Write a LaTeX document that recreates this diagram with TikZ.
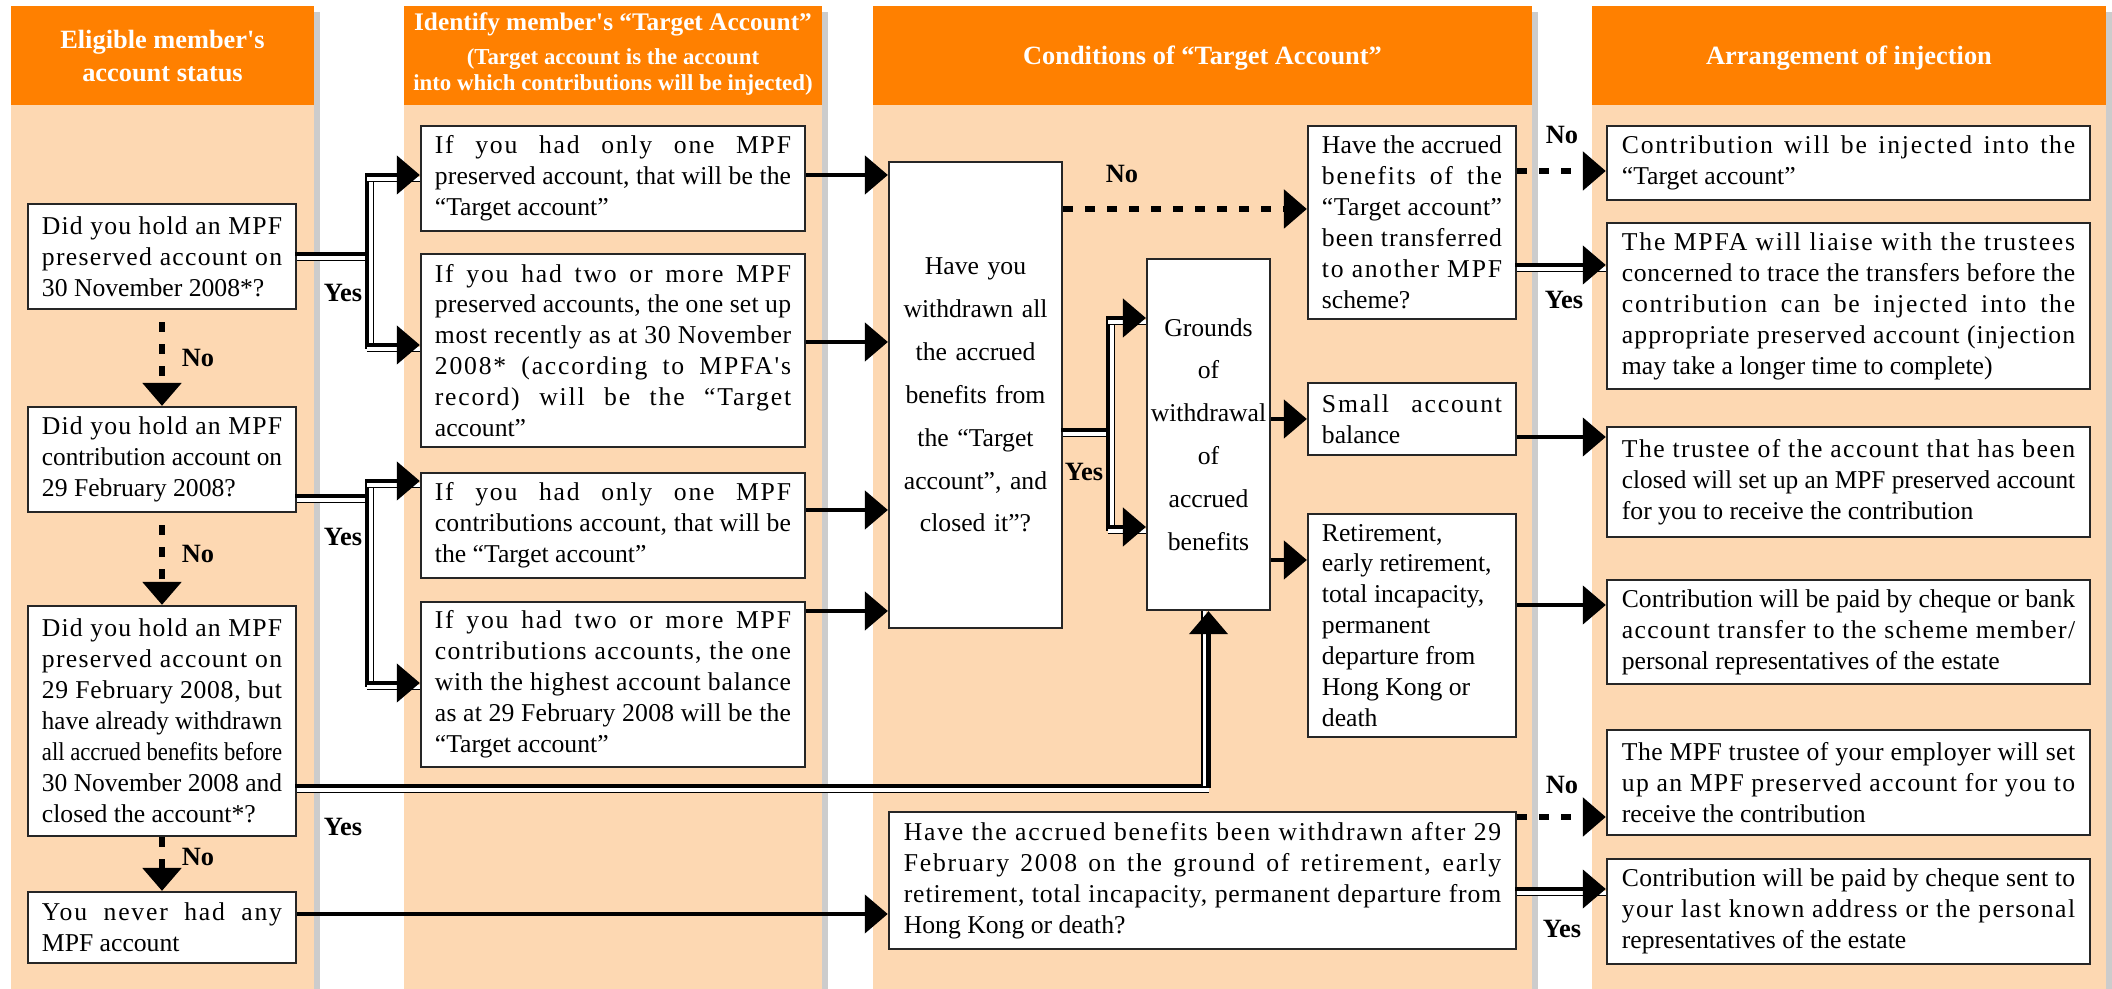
\documentclass[tikz,border=0pt]{standalone}
\usepackage{fontspec}
\setmainfont{Liberation Serif}[Ligatures=TeXOff]
\usepackage{graphicx}
\usetikzlibrary{positioning,arrows.meta}

\definecolor{headorange}{RGB}{255,128,0}
\definecolor{bodypeach}{RGB}{253,216,178}
\definecolor{shadowgray}{RGB}{204,204,204}

\newlength{\rowa}
\newlength{\rowb}
\newcommand{\jrow}[1]{\settowidth{\rowa}{\spaceskip=0pt\relax #1}%
  \ifdim\rowa>\linewidth\resizebox{\linewidth}{\height}{\spaceskip=0pt\relax #1}%
  \else
    \settowidth{\rowb}{\addfontfeature{LetterSpace=10}\spaceskip=0pt\relax #1}%
    \edef\rowls{\fpeval{round(min(10*(\linewidth-\rowa)/(\rowb-\rowa),7),1)}}%
    \makebox[\linewidth][s]{\addfontfeature{LetterSpace=\rowls}\spaceskip=0pt\relax #1}%
  \fi}
\newcommand{\lrow}[1]{\settowidth{\rowa}{\spaceskip=0pt\relax #1}%
  \ifdim\rowa>\linewidth\resizebox{\linewidth}{\height}{\spaceskip=0pt\relax #1}%
  \else{\spaceskip=0pt\relax #1}\fi}

\begin{document}
\begin{tikzpicture}[x=0.01cm, y=-0.01cm,
box/.style={draw=black!85, line width=0.6pt, fill=white, inner ysep=0pt, align=left, font=\fontsize{7.3}{8.8}\selectfont},
colA/.style={box, text width=2.40cm, inner xsep=0.14cm},
colB/.style={box, text width=3.56cm, inner xsep=0.14cm},
colC/.style={box, text width=1.80cm, inner xsep=0.14cm},
colD/.style={box, text width=4.53cm, inner xsep=0.15cm},
tallbox/.style={box, align=center, font=\fontsize{7.3}{12.2}\selectfont},
head/.style={text=white, align=center, font=\fontsize{7.5}{9.4}\selectfont\bfseries},
lab/.style={font=\fontsize{7.5}{9}\selectfont\bfseries},
arr/.style={line width=1.3pt, -{Triangle[length=0.23cm, width=0.38cm]}},
noline/.style={arr, line width=1.6pt, dash pattern=on 0.1cm off 0.12cm},
yesh/.style={line width=1.3pt, line cap=rect,
  preaction={draw=white, -, line width=1pt, transform canvas={yshift=-0.042cm}},
  preaction={draw=black, -, line width=0.35pt, transform canvas={yshift=-0.065cm}}},
yesv/.style={line width=1.3pt, line cap=rect,
  preaction={draw=white, -, line width=1pt, transform canvas={xshift=0.042cm}},
  preaction={draw=black, -, line width=0.35pt, transform canvas={xshift=0.065cm}}},
yesvl/.style={line width=1.3pt,
  preaction={draw=white, -, line width=1pt, transform canvas={xshift=-0.042cm}},
  preaction={draw=black, -, line width=0.35pt, transform canvas={xshift=-0.065cm}}}
]
    \useasboundingbox (0,0) rectangle (2112,989);

    %Columns
    \foreach \xa/\xb in {11/314, 404/822, 873/1532, 1592/2106}{
        \fill[shadowgray] (\xb,12) rectangle ({\xb+6},989);
        \fill[bodypeach] (\xa,105) rectangle (\xb,989);
        \fill[headorange] (\xa,6) rectangle (\xb,105);
    }
    \node[head] (h1) at (162.5,56) {Eligible member's\\account status};
    \node[head, font=\fontsize{7.2}{9}\selectfont\bfseries] (h2) at (613,24) {Identify member's “Target Account”};
    \node[head, font=\fontsize{6.5}{7.4}\selectfont\bfseries] (h2s) at (613,72) {(Target account is the account\\into which contributions will be injected)};
    \node[head] (h3) at (1202.5,58) {Conditions of “Target Account”};
    \node[head] (h4) at (1849,58) {Arrangement of injection};

    %Nodes
    \node[colA, minimum height=1.05cm] (A1) at (162,256.5)
        {\jrow{Did you hold an MPF}\\
         \jrow{preserved account on}\\
         \lrow{30 November 2008*?}};
    \node[colA, minimum height=1.05cm] (A2) at (162,459.5)
        {\jrow{Did you hold an MPF}\\
         \jrow{contribution account on}\\
         \lrow{29 February 2008?}};
    \node[colA, minimum height=2.30cm] (A3) at (162,721)
        {\jrow{Did you hold an MPF}\\
         \jrow{preserved account on}\\
         \jrow{29 February 2008, but}\\
         \jrow{have already withdrawn}\\
         \jrow{all accrued benefits before}\\
         \jrow{30 November 2008 and}\\
         \lrow{closed the account*?}};
    \node[colA, minimum height=0.71cm] (A4) at (162,927.5)
        {\jrow{You never had any}\\
         \lrow{MPF account}};

    \node[colB, minimum height=1.05cm] (B1) at (613,178.5)
        {\jrow{If you had only one MPF}\\
         \jrow{preserved account, that will be the}\\
         \lrow{“Target account”}};
    \node[colB, minimum height=1.93cm] (B2) at (613,350.5)
        {\jrow{If you had two or more MPF}\\
         \jrow{preserved accounts, the one set up}\\
         \jrow{most recently as at 30 November}\\
         \jrow{2008* (according to MPFA's}\\
         \jrow{record) will be the “Target}\\
         \lrow{account”}};
    \node[colB, minimum height=1.05cm] (B3) at (613,525.5)
        {\jrow{If you had only one MPF}\\
         \jrow{contributions account, that will be}\\
         \lrow{the “Target account”}};
    \node[colB, minimum height=1.65cm] (B4) at (613,684.5)
        {\jrow{If you had two or more MPF}\\
         \jrow{contributions accounts, the one}\\
         \jrow{with the highest account balance}\\
         \jrow{as at 29 February 2008 will be the}\\
         \lrow{“Target account”}};

    \node[tallbox, text width=1.50cm, inner xsep=0.115cm, minimum height=4.66cm] (C1) at (975.5,395)
        {Have you\\withdrawn all\\the accrued\\benefits from\\the “Target\\account”, and\\closed it”?};
    \node[tallbox, text width=1.17cm, inner xsep=0.03cm, minimum height=3.51cm] (Grounds) at (1208.5,434.5)
        {Grounds\\of\\withdrawal\\of\\accrued\\benefits};
    \node[colC, minimum height=1.93cm] (C2) at (1412,222.5)
        {\jrow{Have the accrued}\\
         \jrow{benefits of the}\\
         \jrow{“Target account”}\\
         \jrow{been transferred}\\
         \jrow{to another MPF}\\
         \lrow{scheme?}};
    \node[colC, minimum height=0.72cm] (Small) at (1412,419)
        {\jrow{Small account}\\
         \lrow{balance}};
    \node[colC, minimum height=2.23cm] (Ret) at (1412,625.5)
        {\lrow{Retirement,}\\
         \lrow{early retirement,}\\
         \lrow{total incapacity,}\\
         \lrow{permanent}\\
         \lrow{departure from}\\
         \lrow{Hong Kong or}\\
         \lrow{death}};
    \node[box, text width=5.97cm, inner xsep=0.15cm, minimum height=1.37cm] (E1) at (1202.5,880.5)
        {\jrow{Have the accrued benefits been withdrawn after 29}\\
         \jrow{February 2008 on the ground of retirement, early}\\
         \jrow{retirement, total incapacity, permanent departure from}\\
         \lrow{Hong Kong or death?}};

    \node[colD, minimum height=0.74cm] (D1) at (1848.5,163)
        {\jrow{Contribution will be injected into the}\\
         \lrow{“Target account”}};
    \node[colD, minimum height=1.66cm] (D2) at (1848.5,306)
        {\jrow{The MPFA will liaise with the trustees}\\
         \jrow{concerned to trace the transfers before the}\\
         \jrow{contribution can be injected into the}\\
         \jrow{appropriate preserved account (injection}\\
         \lrow{may take a longer time to complete)}};
    \node[colD, minimum height=1.10cm] (D3) at (1848.5,482)
        {\jrow{The trustee of the account that has been}\\
         \jrow{closed will set up an MPF preserved account}\\
         \lrow{for you to receive the contribution}};
    \node[colD, minimum height=1.04cm] (D4) at (1848.5,632)
        {\jrow{Contribution will be paid by cheque or bank}\\
         \jrow{account transfer to the scheme member/}\\
         \lrow{personal representatives of the estate}};
    \node[colD, minimum height=1.05cm] (D5) at (1848.5,782.5)
        {\jrow{The MPF trustee of your employer will set}\\
         \jrow{up an MPF preserved account for you to}\\
         \lrow{receive the contribution}};
    \node[colD, minimum height=1.05cm] (D6) at (1848.5,911.5)
        {\jrow{Contribution will be paid by cheque sent to}\\
         \jrow{your last known address or the personal}\\
         \lrow{representatives of the estate}};

    %Lines
    \draw[noline, dash phase=0.1cm] (A1.south) -- (A2.north);
    \draw[noline, dash phase=0.1cm] (A2.south) -- (A3.north);
    \draw[noline] (A3.south) -- (A4.north);
    \node[lab] (no1) at (198,358) {No};
    \node[lab] (no2) at (198,554) {No};
    \node[lab] (no3) at (198,857) {No};

    \coordinate (j1) at (367,254);
    \draw[yesh] (A1.east |- j1) -- (j1);
    \draw[yesv] (j1 |- 0,175) -- (j1 |- 0,347);
    \draw[yesh, arr] (j1 |- 0,175) -- (B1.west |- 0,175);
    \draw[yesh, arr] (j1 |- 0,345) -- (B2.west |- 0,345);
    \node[lab] (yes1) at (343,293) {Yes};

    \coordinate (j2) at (367,496);
    \draw[yesh] (A2.east |- j2) -- (j2);
    \draw[yesv] (j2 |- 0,481) -- (j2 |- 0,685);
    \draw[yesh, arr] (j2 |- 0,481) -- (B3.west |- 0,481);
    \draw[yesh, arr] (j2 |- 0,683) -- (B4.west |- 0,683);
    \node[lab] (yes2) at (343,537) {Yes};

    \coordinate (j4) at (Grounds.south |- 0,786);
    \draw[yesh] (A3.east |- j4) -- (j4);
    \draw[yesvl, arr] (j4) -- (Grounds.south);
    \node[lab] (yes3) at (343,827) {Yes};

    \draw[arr] (B1.east |- 0,175) -- (C1.west |- 0,175);
    \draw[arr] (B2.east |- 0,342) -- (C1.west |- 0,342);
    \draw[arr] (B3.east |- 0,510) -- (C1.west |- 0,510);
    \draw[arr] (B4.east |- 0,611) -- (C1.west |- 0,611);
    \draw[arr] (A4.east |- 0,914) -- (E1.west |- 0,914);

    \draw[noline] (C1.east |- 0,209) -- (C2.west |- 0,209);
    \node[lab] (no4) at (1122,174) {No};

    \coordinate (j3) at (1108,430);
    \draw[yesh] (C1.east |- j3) -- (j3);
    \draw[yesv] (j3 |- 0,318) -- (j3 |- 0,529);
    \draw[yesh, arr] (j3 |- 0,318) -- (Grounds.west |- 0,318);
    \draw[yesh, arr] (j3 |- 0,527) -- (Grounds.west |- 0,527);
    \node[lab] (yes4) at (1084,472) {Yes};

    \draw[arr] (Grounds.east |- 0,419) -- (Small.west |- 0,419);
    \draw[arr] (Grounds.east |- 0,560) -- (Ret.west |- 0,560);

    \draw[noline] (C2.east |- 0,171) -- (D1.west |- 0,171);
    \node[lab] (no5) at (1562,135) {No};
    \draw[yesh, arr] (C2.east |- 0,265) -- (D2.west |- 0,265);
    \node[lab] (yes5) at (1564,300) {Yes};
    \draw[arr] (Small.east |- 0,437) -- (D3.west |- 0,437);
    \draw[arr] (Ret.east |- 0,605) -- (D4.west |- 0,605);
    \draw[noline] (E1.east |- 0,817) -- (D5.west |- 0,817);
    \node[lab] (no6) at (1562,785) {No};
    \draw[yesh, arr] (E1.east |- 0,889) -- (D6.west |- 0,889);
    \node[lab] (yes6) at (1562,929) {Yes};
\end{tikzpicture}
\end{document}
